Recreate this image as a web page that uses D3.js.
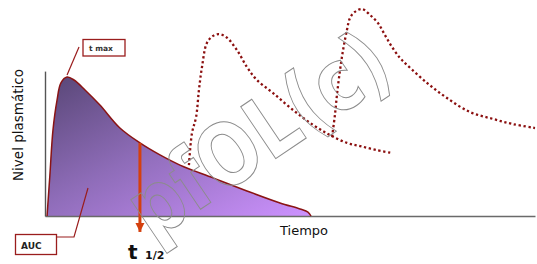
<!DOCTYPE html>
<meta charset="utf-8">
<style>
body { margin: 0; background: #fff; }
svg text { font-family: "DejaVu Sans", Verdana, sans-serif; }
</style>
<body>
<svg width="537" height="264"></svg>
<script src="https://cdn.jsdelivr.net/npm/d3@7"></script>
<script>

// single dose curve (time in h, plasma level)
var doseTime  = [0.1, 0.24, 0.39, 0.59, 0.78, 1.08, 1.42, 1.96, 2.69, 3.67, 4.65, 5.63, 6.61, 8.23, 9.89, 11.51, 12.49, 12.88, 13.03];
var doseLevel = [0, 19.8, 41.5, 56, 64.3, 67.1, 65.7, 60.9, 53.6, 42.5, 35.3, 29.5, 24.6, 18.4, 12.1, 6.3, 3.4, 1.9, 0];

// second dose (dotted)
var dose2Time  = [7.05, 7.2, 7.4, 7.54, 7.69, 7.93, 8.23, 8.52, 8.87, 9.4, 9.89, 10.38, 11.17, 12.15, 13.13, 13.96, 14.79, 15.43, 16.21, 17.0];
var dose2Level = [24.6, 40.1, 47.8, 60.9, 72, 83.6, 87, 87.9, 86.5, 80.2, 72, 65.7, 59.4, 51.2, 44, 39.1, 35.3, 33.8, 31.9, 30.4];

// third dose (dotted)
var dose3Time  = [14.06, 14.2, 14.3, 14.45, 14.6, 14.79, 14.94, 15.18, 15.53, 15.92, 16.31, 16.65, 17.0, 17.39, 17.74, 18.71, 19.69, 20.82, 21.94, 22.92, 24.0];
var dose3Level = [38.2, 48.8, 58.5, 70.5, 80.2, 89.9, 95.7, 98.6, 100, 97.1, 93.2, 87.4, 81.6, 76.3, 72.9, 64.3, 57, 50.2, 46.9, 44.4, 42.5];

var tMax = 1.08, cMax = 67.1;
var tHalf = 4.65, cHalf = 35.3;

var labels = ["t max", "AUC", "Tiempo", "Nivel plasmático", "t", "1/2", "pfOL(c)"];

var svg = d3.select("svg");

var x = d3.scaleLinear().domain([0, 24]).range([45, 535]);
var y = d3.scaleLinear().domain([0, 100]).range([216, 9]);
var yAxisScale = y.copy().domain([0, 70]).range([y(0), y(70)]);

var defs = svg.append("defs");
var grad = defs.append("linearGradient").attr("id", "auc")
  .attr("x1", 0).attr("y1", 0).attr("x2", 1).attr("y2", 1);
grad.append("stop").attr("offset", "0%").attr("stop-color", "#584676");
grad.append("stop").attr("offset", "45%").attr("stop-color", "#8e6cb8");
grad.append("stop").attr("offset", "100%").attr("stop-color", "#cd92ff");

defs.append("marker").attr("id", "head")
  .attr("viewBox", "0 0 10 10").attr("refX", 10).attr("refY", 5)
  .attr("markerWidth", 3).attr("markerHeight", 3.6).attr("orient", "auto")
  .append("path").attr("d", "M0,0L10,5L0,10Z").attr("fill", "#d4400e");

var dose1 = d3.zip(doseTime, doseLevel);
var dose2 = d3.zip(dose2Time, dose2Level);
var dose3 = d3.zip(dose3Time, dose3Level);

var area = d3.area().x(d => x(d[0])).y0(y(0)).y1(d => y(d[1])).curve(d3.curveCatmullRom);
var line = d3.line().x(d => x(d[0])).y(d => y(d[1])).curve(d3.curveCatmullRom);

svg.append("path").datum(dose1).attr("d", area).attr("fill", "url(#auc)");

// axes
var xAxis = svg.append("g").attr("transform", "translate(0," + y(0) + ")")
  .call(d3.axisBottom(x).tickValues([]).tickSizeOuter(0));
var yAxis = svg.append("g").attr("transform", "translate(" + x(0) + ",0)")
  .call(d3.axisLeft(yAxisScale).tickValues([]).tickSizeOuter(0));
xAxis.select(".domain").attr("stroke", "#6a6a6a").attr("stroke-width", 1.6);
yAxis.select(".domain").attr("stroke", "#555").attr("stroke-width", 1.4);

svg.append("path").datum(dose1).attr("d", line)
  .attr("fill", "none").attr("stroke", "#8a1414").attr("stroke-width", 1.5);

[dose2, dose3].forEach(function(d) {
  svg.append("path").datum(d).attr("d", line)
    .attr("fill", "none").attr("stroke", "#8b0f0f")
    .attr("stroke-width", 2.3).attr("stroke-dasharray", "2.3,2.6");
});

// half life arrow
svg.append("line")
  .attr("x1", x(tHalf)).attr("y1", y(cHalf))
  .attr("x2", x(tHalf)).attr("y2", y(-7.7))
  .attr("stroke", "#d4400e").attr("stroke-width", 3)
  .attr("marker-end", "url(#head)");

// watermark
svg.append("text")
  .attr("transform", "translate(152,242) rotate(-34) scale(1.08,1.3)")
  .attr("font-size", 66).attr("font-weight", "bold")
  .attr("fill", "none").attr("stroke", "#8c8c8c").attr("stroke-width", 0.8)
  .text(labels[6]);

// t max callout
svg.append("line").attr("x1", 79).attr("y1", 47)
  .attr("x2", x(tMax)).attr("y2", y(cMax) - 2)
  .attr("stroke", "#9a1d1d").attr("stroke-width", 1.2);
svg.append("rect").attr("x", 83).attr("y", 39.5).attr("width", 42).attr("height", 16.5)
  .attr("fill", "#fff").attr("stroke", "#9a1d1d").attr("stroke-width", 1.3);
svg.append("text").attr("x", 89).attr("y", 51).attr("font-size", 7.5)
  .attr("font-weight", "bold").attr("fill", "#333").text(labels[0]);

// AUC callout
svg.append("polyline").attr("points", "56,237 74,237 88,188")
  .attr("fill", "none").attr("stroke", "#9a1d1d").attr("stroke-width", 1.2);
svg.append("rect").attr("x", 15.5).attr("y", 234.5).attr("width", 41).attr("height", 20)
  .attr("fill", "#fff").attr("stroke", "#9a1d1d").attr("stroke-width", 1.3);
svg.append("text").attr("x", 21).attr("y", 248.5).attr("font-size", 9)
  .attr("font-weight", "bold").attr("fill", "#222").text(labels[1]);

// axis titles
svg.append("text").attr("x", 280).attr("y", 235).attr("font-size", 13)
  .attr("fill", "#111").text(labels[2]);
svg.append("text").attr("transform", "translate(23,125) rotate(-90)")
  .attr("text-anchor", "middle").attr("font-size", 13.5)
  .attr("fill", "#111").text(labels[3]);

svg.append("text").attr("x", 128).attr("y", 259).attr("font-size", 20)
  .attr("font-weight", "bold").attr("fill", "#111").text(labels[4]);
svg.append("text").attr("x", 145).attr("y", 259).attr("font-size", 11)
  .attr("font-weight", "bold").attr("fill", "#111").text(labels[5]);

</script>
</body>
